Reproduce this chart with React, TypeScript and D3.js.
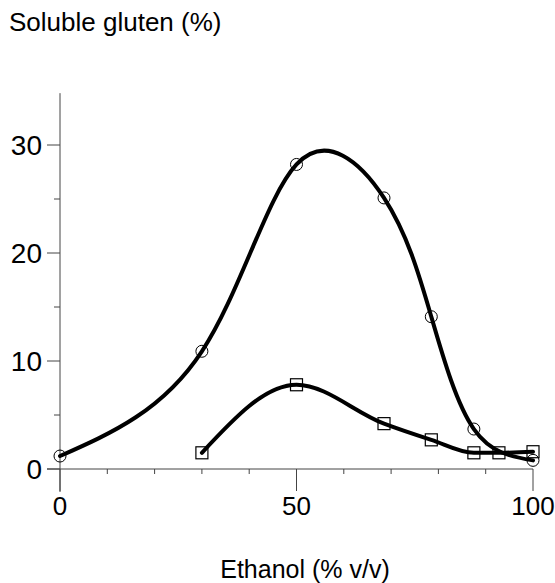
import React from 'react';
import * as d3 from 'd3';

// circles: ethanol % vs soluble gluten %
const circleX = [0, 30, 50, 68.5, 78.5, 87.5, 100];
const circleY = [1.2, 10.9, 28.2, 25.1, 14.1, 3.7, 0.8];

// squares
const squareX = [30, 50, 68.5, 78.5, 87.5, 92.8, 100];
const squareY = [1.5, 7.8, 4.2, 2.7, 1.5, 1.5, 1.6];

const xMajor = [0, 50, 100];
const xMinor = [10, 20, 30, 40, 60, 70, 80, 90];
const yMajor = [0, 10, 20, 30];
const yMinor = [5, 15, 25];

const W = 555;
const H = 583;
const FONT = '"Liberation Sans", Arial, Helvetica, sans-serif';

export default function App() {
  const x = d3.scaleLinear().domain([0, 100]).range([60, 533]);
  const y = d3.scaleLinear().domain([0, 30]).range([469, 145]);

  const circles = circleX.map((v, i) => ({ x: v, y: circleY[i] }));
  const squares = squareX.map((v, i) => ({ x: v, y: squareY[i] }));

  const circleLine = d3.line<{ x: number; y: number }>()
    .x(d => x(d.x))
    .y(d => y(d.y))
    .curve(d3.curveNatural);

  const squareLine = d3.line<{ x: number; y: number }>()
    .x(d => x(d.x))
    .y(d => y(d.y))
    .curve(d3.curveMonotoneX);

  const axisColor = '#444';

  return (
    <svg width={W} height={H} style={{ position: 'absolute', left: 0, top: 0, background: '#fff' }}>
      <text x={9} y={31} fontFamily={FONT} fontSize={26} fill="#000">Soluble gluten (%)</text>

      {/* y axis */}
      <line x1={x(0)} x2={x(0)} y1={y(34.8)} y2={y(0) + 23} stroke={axisColor} strokeWidth={1} />
      {yMajor.map(t => (
        <g key={'ym' + t}>
          <line x1={x(0) - 13} x2={x(0)} y1={y(t)} y2={y(t)} stroke={axisColor} strokeWidth={1} />
          <text x={42} y={y(t) + 10} textAnchor="end" fontFamily={FONT} fontSize={28} fill="#000">{t}</text>
        </g>
      ))}
      {yMinor.map(t => (
        <line key={'yn' + t} x1={x(0) - 6} x2={x(0)} y1={y(t)} y2={y(t)} stroke={axisColor} strokeWidth={1} />
      ))}

      {/* x axis */}
      <line x1={x(0) - 13} x2={x(100)} y1={y(0)} y2={y(0)} stroke={axisColor} strokeWidth={1} />
      {xMajor.map(t => (
        <g key={'xm' + t}>
          <line x1={x(t)} x2={x(t)} y1={y(0)} y2={y(0) + 22} stroke={axisColor} strokeWidth={1} />
          <text x={x(t)} y={515} textAnchor="middle" fontFamily={FONT} fontSize={26} fill="#000">{t}</text>
        </g>
      ))}
      {xMinor.map(t => (
        <line key={'xn' + t} x1={x(t)} x2={x(t)} y1={y(0)} y2={y(0) + 5} stroke={axisColor} strokeWidth={1} />
      ))}

      <text x={305} y={578} textAnchor="middle" fontFamily={FONT} fontSize={25} fill="#000">Ethanol (% v/v)</text>

      {/* markers */}
      {circles.map((d, i) => (
        <circle key={'c' + i} cx={x(d.x)} cy={y(d.y)} r={6} fill="none" stroke="#000" strokeWidth={1} />
      ))}
      {squares.map((d, i) => (
        <rect key={'s' + i} x={x(d.x) - 6} y={y(d.y) - 6} width={12} height={12} fill="none" stroke="#000" strokeWidth={1.2} />
      ))}

      {/* curves */}
      <path d={circleLine(circles) || ''} fill="none" stroke="#000" strokeWidth={4} strokeLinecap="round" />
      <path d={squareLine(squares) || ''} fill="none" stroke="#000" strokeWidth={4} strokeLinecap="round" />
    </svg>
  );
}
